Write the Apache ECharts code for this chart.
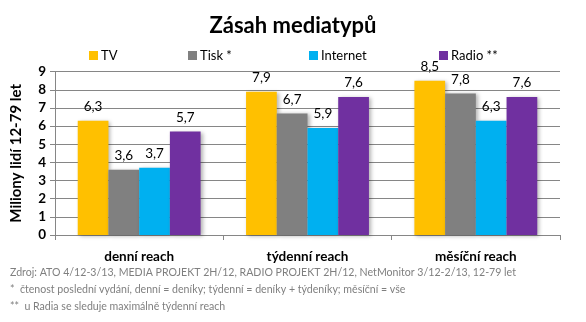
<!DOCTYPE html>
<html><head><meta charset="utf-8">
<script src="https://cdn.jsdelivr.net/npm/echarts@6/dist/echarts.min.js"></script>
<style>html,body{margin:0;padding:0;background:#fff}#c{width:586px;height:322px}</style>
</head><body><div id="c"></div>
<script>
const categories = ['denní reach', 'týdenní reach', 'měsíční reach'];
const seriesNames = ['TV', 'Tisk *', 'Internet', 'Radio **'];
const tv = [6.3, 7.9, 8.5];
const tisk = [3.6, 6.7, 7.8];
const internet = [3.7, 5.9, 6.3];
const radio = [5.7, 7.6, 7.6];
const colors = ['#FFC000', '#808080', '#00B0F0', '#7030A0'];
const footnotes = [
  'Zdroj: ATO 4/12-3/13, MEDIA PROJEKT 2H/12, RADIO PROJEKT 2H/12, NetMonitor 3/12-2/13, 12-79 let',
  '*  čtenost poslední vydání, denní = deníky; týdenní = deníky + týdeníky; měsíční = vše',
  '**  u Radia se sleduje maximálně týdenní reach'
];
const FONT = 'Lato, "Open Sans", sans-serif';
const values = [tv, tisk, internet, radio];
const legendLeft = [84, 183, 304, 434];
const chart = echarts.init(document.getElementById('c'), null, {renderer: 'canvas'});
chart.setOption({
  animation: false,
  textStyle: {fontFamily: FONT},
  title: {text: 'Zásah mediatypů', left: 'center', top: 10,
    textStyle: {fontFamily: FONT, fontSize: 22, fontWeight: 'bold', color: '#000'}},
  legend: seriesNames.map((n, i) => ({
    data: [n], left: legendLeft[i], top: 44, itemWidth: 9, itemHeight: 9, itemGap: 4,
    icon: 'rect', textStyle: {fontFamily: FONT, fontSize: 13, color: '#000', padding: [0,0,0,-2]}
  })),
  grid: {left: 55, right: 26, top: 71.7, bottom: 87},
  xAxis: {
    type: 'category', data: categories,
    axisLine: {lineStyle: {color: '#868686'}},
    axisTick: {show: true, length: 5, lineStyle: {color: '#868686'}},
    axisLabel: {fontFamily: FONT, fontSize: 13.5, fontWeight: 'bold', color: '#000', margin: 15}
  },
  yAxis: {
    type: 'value', min: 0, max: 9, interval: 1,
    name: 'Miliony lidí 12-79 let', nameLocation: 'middle', nameGap: 31,
    nameTextStyle: {fontFamily: FONT, fontSize: 15, fontWeight: 'bold', color: '#000'},
    axisLine: {show: true, lineStyle: {color: '#868686'}},
    axisTick: {show: true, length: 5, lineStyle: {color: '#868686'}},
    splitLine: {lineStyle: {color: '#868686'}},
    axisLabel: {fontFamily: FONT, fontSize: 13.5, fontWeight: 'bold', color: '#000', margin: 9}
  },
  graphic: footnotes.map((t, i) => ({
    type: 'text', left: 10, top: 267 + i * 17,
    style: {text: t, fill: '#7f7f7f', font: '10.6px ' + FONT}
  })),
  series: seriesNames.map((n, i) => ({
    name: n, type: 'bar', data: values[i],
    barGap: '0%', barCategoryGap: '27%',
    itemStyle: {color: colors[i], shadowColor: 'rgba(0,0,0,0.3)', shadowBlur: 4, shadowOffsetX: 2, shadowOffsetY: 1},
    label: {show: true, position: 'top', distance: 7, fontFamily: FONT, fontSize: 13.5, color: '#000',
      formatter: p => String(p.value).replace('.', ',')}
  }))
});
</script></body></html>
